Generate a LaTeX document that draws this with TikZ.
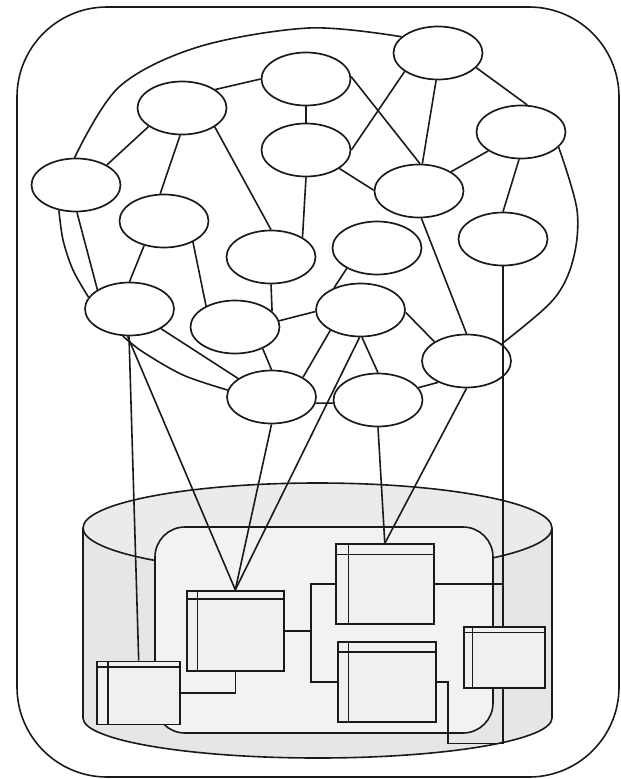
\documentclass[tikz,border=0pt]{standalone}
\usetikzlibrary{shapes.geometric}
\definecolor{cylfill}{HTML}{E6E6E6}
\definecolor{topfill}{HTML}{EBEBEB}
\definecolor{innerfill}{HTML}{F2F2F2}
\definecolor{boxfill}{HTML}{F0F0F0}
\definecolor{ink}{HTML}{1A1A1A}
\begin{document}
\begin{tikzpicture}[x=1pt,y=-1pt,
  nd/.style={ellipse, draw=ink, line width=1.7pt, minimum width=89pt, minimum height=53pt, inner sep=0pt},
  ln/.style={draw=ink, line width=1.6pt},
  win/.style={rectangle, draw=ink, fill=boxfill, line width=1.7pt, inner sep=0pt},
  bar/.style={draw=ink, line width=1.6pt}]
\useasboundingbox (0,0) rectangle (621,779);
\draw[ln, rounded corners=90pt] (17,7) rectangle (619,777);

% cylinder
\fill[cylfill] (83,528) rectangle (552,718);
\fill[cylfill] (317.5,718) ellipse [x radius=234.5pt, y radius=40pt];
\begin{scope}
\clip (0,718) rectangle (621,779);
\draw[ln] (317.5,718) ellipse [x radius=234.5pt, y radius=40pt];
\end{scope}
\draw[ln] (83,528) -- (83,718) (552,528) -- (552,718);
\filldraw[ln, fill=topfill] (317.5,528) ellipse [x radius=234.5pt, y radius=45pt];
\filldraw[ln, fill=innerfill, rounded corners=30pt] (155,527) rectangle (493,733);

% cloud nodes
\node[nd] (A) at (76,185) {};
\node[nd] (B) at (182,108) {};
\node[nd] (C) at (306,79) {};
\node[nd] (D) at (438,53) {};
\node[nd] (E) at (521,132) {};
\node[nd] (F) at (306,150) {};
\node[nd] (G) at (419,191) {};
\node[nd] (H) at (164,221) {};
\node[nd] (I) at (271,257) {};
\node[nd] (J) at (377,248) {};
\node[nd] (K) at (503,239) {};
\node[nd] (L) at (129.5,309) {};
\node[nd] (M) at (235,327) {};
\node[nd] (N) at (360.5,310) {};
\node[nd] (O) at (466.5,361) {};
\node[nd] (P) at (271.5,397) {};
\node[nd] (Q) at (378,400) {};

% window boxes
\node[win, minimum width=83pt, minimum height=63pt] (b1) at (138.7,693) {};
\node[win, minimum width=97pt, minimum height=80pt] (b2) at (235.3,630.7) {};
\node[win, minimum width=98pt, minimum height=80pt] (b3) at (384.8,584.2) {};
\node[win, minimum width=98pt, minimum height=80.5pt] (b4) at (386.8,682) {};
\node[win, minimum width=81pt, minimum height=61.5pt] (b5) at (504.7,657.5) {};
\foreach \b/\t/\l in {b1/6.6/11.7, b2/9.3/11.6, b3/11/13.6, b4/11/11.6, b5/6.6/9} {
  \draw[bar] ([yshift=-\t pt]\b.north west) -- ([yshift=-\t pt]\b.north east);
  \draw[bar] ([xshift=\l pt]\b.north west) -- ([xshift=\l pt]\b.south west);
}

% cloud outline
\draw[ln] plot[smooth, tension=0.55] coordinates {(A.93) (119,87) (198,47) (309,28) (D.156)};
\draw[ln] plot[smooth, tension=0.55] coordinates {(E.-22) (577,210) (573,260) (553,300) (O.26)};
\draw[ln] plot[smooth, tension=0.55] coordinates {(P.171) (183,375) (143,352) (L.256)};
\draw[ln] plot[smooth, tension=0.55] coordinates {(L.164) (73,270) (63,240) (A.236)};

% cloud edges
\draw[ln] (A.33) -- (B.209);
\draw[ln] (B.29) -- (C.180);
\draw[ln] (B.266) -- (H.98);
\draw[ln] (B.-30) -- (I.90);
\draw[ln] (C.south) -- (F.north);
\draw[ln] (C.3) -- (G.88);
\draw[ln] (D.209) -- (F.0);
\draw[ln] (D.266) -- (G.83);
\draw[ln] (D.339) -- (E.77);
\draw[ln] (E.210) -- (G.31);
\draw[ln] (E.266) -- (K.90);
\draw[ln] (F.331) -- (G.179);
\draw[ln] (F.270) -- (I.32);
\draw[ln] (H.231) -- (L.90);
\draw[ln] (H.-36) -- (M.144);
\draw[ln] (I.270) -- (M.23);
\draw[ln] (M.-38) -- (P.90);
\draw[ln] (M.8) -- (N.182);
\draw[ln] (J.214) -- (N.140);
\draw[ln] (N.214) -- (P.32);
\draw[ln] (N.273) -- (Q.90);
\draw[ln] (N.357) -- (O.149);
\draw[ln] (G.275) -- (O.90);
\draw[ln] (Q.17) -- (O.217);
\draw[ln] (P.352) -- (Q.184);
\draw[ln] (A.-88) -- (L.149);
\draw[ln] (L.328) -- (P.151);

% cloud to boxes
\draw[ln] (L.269) -- (b1.north);
\draw[ln] (L.266) -- (b2.north);
\draw[ln] (P.south) -- (b2.north);
\draw[ln] (N.268) -- (b2.north);
\draw[ln] (Q.south) -- (b3.north);
\draw[ln] (O.south) -- (b3.north);
\draw[ln] (K.south) -- (K.south |- b5.north);

% box connectors
\draw[ln] (b1.east) -| (b2.south);
\coordinate (bt) at (311,584.2);
\coordinate (bb) at (311,682);
\draw[ln] (b3.west) -- (bt) -- (bb) -- (b4.west);
\draw[ln] (b2.east) -- (b2.east -| bt);
\draw[ln] (b3.east) -- (b3.east -| K.south);
\coordinate (w1) at (448,743.3);
\draw[ln] (b4.east) -| (w1) -| (K.south |- b5.south);
\end{tikzpicture}
\end{document}
